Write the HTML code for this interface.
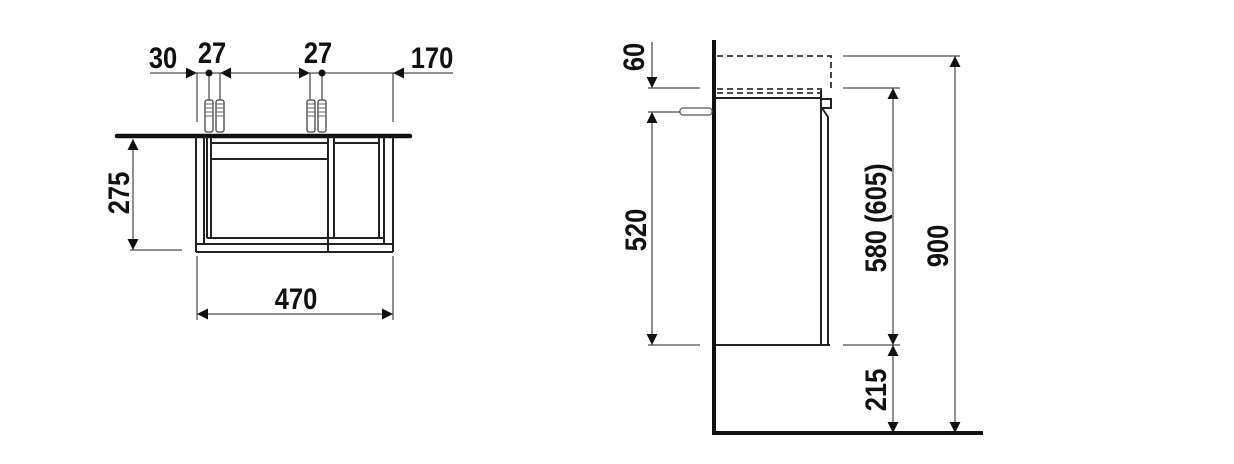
<!DOCTYPE html>
<html><head><meta charset="utf-8"><style>
html,body{margin:0;padding:0;background:#fff;}
svg{display:block;}
text{font-family:"Liberation Sans",sans-serif;font-weight:bold;font-size:30px;fill:#111;}
</style></head><body>
<svg width="1234" height="464" viewBox="0 0 1234 464" xmlns="http://www.w3.org/2000/svg">
<defs>
<marker id="a" viewBox="0 0 10 10" refX="10" refY="5" markerWidth="22" markerHeight="11" orient="auto" markerUnits="userSpaceOnUse"><path d="M0,0 L10,5 L0,10 Z" fill="#111"/></marker>
</defs>
<g stroke="#222" stroke-width="1" fill="none">
<line x1="150" y1="73" x2="453" y2="73"/>
<line x1="197" y1="73" x2="197" y2="122"/>
<line x1="220" y1="73" x2="220" y2="100"/>
<line x1="310" y1="73" x2="310" y2="100"/>
<line x1="393" y1="73" x2="393" y2="122"/>
<line x1="209" y1="73" x2="209" y2="100"/>
<line x1="322" y1="73" x2="322" y2="100"/>
<line x1="175" y1="73" x2="197" y2="73" marker-end="url(#a)"/>
<line x1="242" y1="73" x2="220" y2="73" marker-end="url(#a)"/>
<line x1="288" y1="73" x2="310" y2="73" marker-end="url(#a)"/>
<line x1="415" y1="73" x2="393" y2="73" marker-end="url(#a)"/>
<line x1="130" y1="250" x2="182" y2="250"/>
<line x1="133" y1="160" x2="133" y2="139" marker-end="url(#a)"/>
<line x1="133" y1="160" x2="133" y2="228"/>
<line x1="133" y1="228" x2="133" y2="250" marker-end="url(#a)"/>
<line x1="197" y1="256" x2="197" y2="320"/>
<line x1="393" y1="256" x2="393" y2="320"/>
<line x1="220" y1="314" x2="197" y2="314" marker-end="url(#a)"/>
<line x1="220" y1="314" x2="370" y2="314"/>
<line x1="370" y1="314" x2="393" y2="314" marker-end="url(#a)"/>
</g>
<circle cx="209" cy="73" r="3.5" fill="#111"/>
<circle cx="322" cy="73" r="3.5" fill="#111"/>
<g fill="#fff" stroke="#444" stroke-width="1.3">
<rect x="205" y="100" width="8" height="32" rx="2"/>
<rect x="216" y="100" width="8" height="32" rx="2"/>
<rect x="307" y="100" width="8" height="32" rx="2"/>
<rect x="318" y="100" width="8" height="32" rx="2"/>
</g>
<g stroke="#666" stroke-width="1">
<path d="M205,104h8M205,108h8M205,112h8M205,116h8M216,104h8M216,108h8M216,112h8M216,116h8M307,104h8M307,108h8M307,112h8M307,116h8M318,104h8M318,108h8M318,112h8M318,116h8"/>
</g>
<line x1="117" y1="136" x2="410" y2="136" stroke="#111" stroke-width="4.5" stroke-linecap="round"/>
<g stroke="#222" stroke-width="2" fill="none">
<line x1="196" y1="137" x2="196" y2="252"/>
<line x1="204" y1="137" x2="204" y2="244"/>
<line x1="207" y1="137" x2="207" y2="238"/>
<line x1="211" y1="137" x2="211" y2="238"/>
<line x1="328" y1="137" x2="328" y2="252"/>
<line x1="334" y1="137" x2="334" y2="238"/>
<line x1="379" y1="137" x2="379" y2="238"/>
<line x1="384" y1="137" x2="384" y2="244"/>
<line x1="393" y1="137" x2="393" y2="252"/>
<line x1="211" y1="143" x2="328" y2="143"/>
<line x1="334" y1="143" x2="379" y2="143"/>
<line x1="211" y1="159" x2="328" y2="159"/>
<line x1="207" y1="238" x2="384" y2="238"/>
<line x1="196" y1="244" x2="393" y2="244"/>
<line x1="196" y1="252" x2="393" y2="252"/>
</g>
<text transform="translate(163,68) scale(0.85,1)" text-anchor="middle">30</text>
<text transform="translate(212,63) scale(0.85,1)" text-anchor="middle">27</text>
<text transform="translate(318,63) scale(0.85,1)" text-anchor="middle">27</text>
<text transform="translate(432,68) scale(0.85,1)" text-anchor="middle">170</text>
<text transform="translate(296,309) scale(0.85,1)" text-anchor="middle">470</text>
<text transform="translate(129,193) rotate(-90) scale(0.85,1)" text-anchor="middle">275</text>

<line x1="714" y1="40" x2="714" y2="434" stroke="#111" stroke-width="4"/>
<line x1="712" y1="433" x2="983" y2="433" stroke="#111" stroke-width="4"/>
<g stroke="#333" stroke-width="1.8" fill="none" stroke-dasharray="6,4">
<path d="M717,56 H831 V90"/>
<path d="M717,89 H822" />
<path d="M717,93 H822" />
</g>
<g stroke="#222" stroke-width="2" fill="none">
<line x1="716" y1="98" x2="822" y2="98"/>
<line x1="716" y1="345" x2="830" y2="345"/>
<line x1="821" y1="90" x2="821" y2="345"/>
<path d="M822,99 H831 V108 H822"/>
<path d="M822,108 L828,117 V345"/>
</g>
<rect x="680" y="108" width="32" height="7" rx="3" fill="#fff" stroke="#555" stroke-width="1.2"/>
<g stroke="#222" stroke-width="1" fill="none">
<line x1="648" y1="88" x2="700" y2="88"/>
<line x1="648" y1="112" x2="680" y2="112"/>
<line x1="648" y1="345" x2="700" y2="345"/>
<line x1="843" y1="56" x2="960" y2="56"/>
<line x1="843" y1="88" x2="900" y2="88"/>
<line x1="843" y1="345" x2="900" y2="345"/>
<line x1="652" y1="42" x2="652" y2="88" />
<line x1="652" y1="66" x2="652" y2="88" marker-end="url(#a)"/>
<line x1="652" y1="135" x2="652" y2="112" marker-end="url(#a)"/>
<line x1="652" y1="135" x2="652" y2="322"/>
<line x1="652" y1="322" x2="652" y2="345" marker-end="url(#a)"/>
<line x1="893" y1="111" x2="893" y2="88" marker-end="url(#a)"/>
<line x1="893" y1="111" x2="893" y2="322"/>
<line x1="893" y1="322" x2="893" y2="345" marker-end="url(#a)"/>
<line x1="893" y1="368" x2="893" y2="345" marker-end="url(#a)"/>
<line x1="893" y1="368" x2="893" y2="410"/>
<line x1="893" y1="410" x2="893" y2="433" marker-end="url(#a)"/>
<line x1="955" y1="79" x2="955" y2="56" marker-end="url(#a)"/>
<line x1="955" y1="79" x2="955" y2="410"/>
<line x1="955" y1="410" x2="955" y2="433" marker-end="url(#a)"/>
</g>
<text transform="translate(644,57) rotate(-90) scale(0.85,1)" text-anchor="middle">60</text>
<text transform="translate(646,230) rotate(-90) scale(0.85,1)" text-anchor="middle">520</text>
<text transform="translate(886,218) rotate(-90) scale(0.85,1)" text-anchor="middle">580 (605)</text>
<text transform="translate(886,390) rotate(-90) scale(0.85,1)" text-anchor="middle">215</text>
<text transform="translate(948,246) rotate(-90) scale(0.85,1)" text-anchor="middle">900</text>
</svg>
</body></html>
